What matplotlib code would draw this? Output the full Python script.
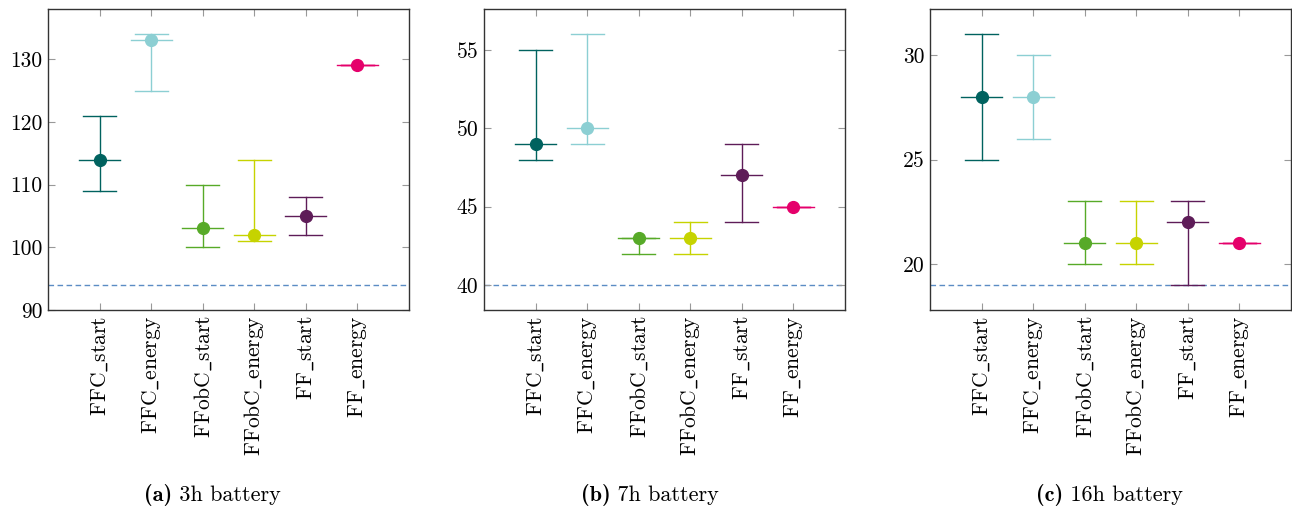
import matplotlib
matplotlib.use("Agg")
import matplotlib.pyplot as plt

plt.rcParams['mathtext.fontset'] = 'cm'
plt.rcParams['font.family'] = 'serif'
plt.rcParams['font.serif'] = ['cmr10', 'DejaVu Serif']
plt.rcParams['axes.formatter.use_mathtext'] = True

categories = ["FFC_start", "FFC_energy", "FFobC_start", "FFobC_energy", "FF_start", "FF_energy"]
colors = ["#00625f", "#8ccfd3", "#57aa28", "#c6d300", "#5e1c58", "#e5006b"]

# 3h battery
med_3h = [114, 133, 103, 102, 105, 129]
lo_3h = [109, 125, 100, 101, 102, 129]
hi_3h = [121, 134, 110, 114, 108, 129]
ref_3h = 94

# 7h battery
med_7h = [49, 50, 43, 43, 47, 45]
lo_7h = [48, 49, 42, 42, 44, 45]
hi_7h = [55, 56, 43, 44, 49, 45]
ref_7h = 40

# 16h battery
med_16h = [28, 28, 21, 21, 22, 21]
lo_16h = [25, 26, 20, 20, 19, 21]
hi_16h = [31, 30, 23, 23, 23, 21]
ref_16h = 19

panels = [
    (med_3h, lo_3h, hi_3h, ref_3h, (90, 138), [90, 100, 110, 120, 130], "(a)", "3h battery", 212),
    (med_7h, lo_7h, hi_7h, ref_7h, (38.4, 57.6), [40, 45, 50, 55], "(b)", "7h battery", 650),
    (med_16h, lo_16h, hi_16h, ref_16h, (17.8, 32.2), [20, 25, 30], "(c)", "16h battery", 1109),
]
lefts = [48, 484, 930]

fig = plt.figure(figsize=(12.92, 5.08), dpi=100)
W, H = 1292, 508
captions = []
for (med, lo, hi, ref, ylim, yt, tag, cap, cx), lpx in zip(panels, lefts):
    ax = fig.add_axes([lpx / W, 1 - 310 / H, 361 / W, 301 / H])
    for i, (m, l, h, c) in enumerate(zip(med, lo, hi, colors)):
        x = i + 1
        ax.plot([x, x], [l, h], color=c, lw=1.0, zorder=2)
        ax.plot([x - 0.32, x + 0.32], [l, l], color=c, lw=1.0, zorder=2)
        ax.plot([x - 0.32, x + 0.32], [h, h], color=c, lw=1.0, zorder=2)
        ax.plot([x - 0.4, x + 0.4], [m, m], color=c, lw=1.0, zorder=3)
        ax.plot([x], [m], 'o', color=c, ms=8.5, zorder=4)
    ax.axhline(ref, color="#5b8cc4", lw=1.0, dashes=(4, 2.5), zorder=1)
    ax.set_xlim(0, 7)
    ax.set_ylim(*ylim)
    ax.set_yticks(yt)
    ax.set_yticklabels([str(v) for v in yt])
    ax.set_xticks(range(1, 7))
    ax.set_xticklabels([r'$\mathrm{' + s.replace('_', r'\_') + '}$' for s in categories],
                       rotation=90, fontsize=15.5)
    ax.tick_params(axis='both', direction='in', length=5, width=0.8, color='#999999',
                   top=True, right=True, labelsize=15.5, pad=4)
    for sp in ax.spines.values():
        sp.set_color('#333333')
        sp.set_linewidth(1.0)
    t1 = fig.text(cx / W, 1 - 495 / H, tag, family='cmb10', ha='left', va='center', fontsize=16)
    t2 = fig.text(cx / W, 1 - 495 / H, ' ' + cap, family='cmr10', ha='left', va='center', fontsize=16)
    captions.append((t1, t2, cx))

fig.canvas.draw()
r = fig.canvas.get_renderer()
for t1, t2, cx in captions:
    w1 = t1.get_window_extent(r).width
    w2 = t2.get_window_extent(r).width
    start = cx - (w1 + w2) / 2
    t1.set_x(start / W)
    t2.set_x((start + w1) / W)

fig.savefig("out.png", dpi=100)
